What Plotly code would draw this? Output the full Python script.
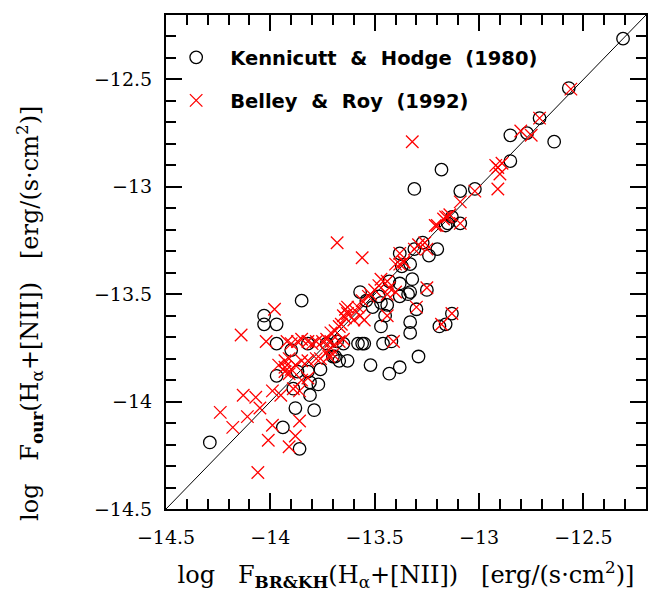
import plotly.graph_objects as go

# Kennicutt & Hodge (1980): x = log F_BR&KH, y = log F_our
kh_x = [-12.31, -12.57, -12.71, -12.77, -12.85, -12.64, -12.85, -13.18, -13.31, -13.09,
        -13.02, -13.13, -13.15, -13.16, -13.09, -13.27, -13.20, -13.24, -13.31, -13.38,
        -13.33, -13.37, -13.32, -13.38, -13.33, -13.34, -13.38, -13.43, -13.57, -13.54,
        -13.51, -13.47, -13.44, -13.48, -13.45, -13.47, -13.25, -13.30, -13.13, -13.16,
        -13.19, -13.33, -13.33, -13.29, -13.38, -13.43, -13.52, -13.42, -13.46, -13.58,
        -13.56, -13.55, -13.65, -13.68, -13.73, -13.69, -13.67, -13.63, -13.76, -13.85,
        -14.03, -14.03, -13.97, -13.97, -13.90, -13.82, -13.97, -13.87, -13.82, -13.81,
        -13.77, -13.89, -13.81, -13.88, -13.79, -13.94, -13.86, -14.29, -13.70]
kh_y = [-12.31, -12.54, -12.68, -12.75, -12.76, -12.79, -12.88, -12.92, -13.01, -13.02,
        -13.01, -13.14, -13.17, -13.18, -13.17, -13.26, -13.29, -13.32, -13.29, -13.31,
        -13.36, -13.37, -13.43, -13.45, -13.49, -13.50, -13.51, -13.44, -13.49, -13.53,
        -13.56, -13.54, -13.55, -13.51, -13.60, -13.65, -13.48, -13.57, -13.59, -13.64,
        -13.65, -13.63, -13.68, -13.79, -13.84, -13.87, -13.83, -13.72, -13.73, -13.73,
        -13.73, -13.73, -13.73, -13.72, -13.73, -13.79, -13.81, -13.81, -13.85, -13.53,
        -13.60, -13.64, -13.64, -13.73, -13.76, -13.73, -13.88, -13.86, -13.86, -13.91,
        -13.92, -13.94, -13.97, -14.03, -14.04, -14.12, -14.22, -14.19, -13.79]

# Belley & Roy (1992)
br_x = [-12.56, -12.71, -12.75, -12.80, -13.32, -12.92, -12.89, -12.91, -12.91, -13.02,
        -13.09, -13.16, -13.21, -13.09, -13.14, -13.68, -13.56, -13.26, -13.25, -13.31,
        -13.29, -13.38, -13.36, -13.40, -13.38, -13.36, -13.47, -13.44, -13.48, -13.50,
        -13.52, -13.43, -13.44, -13.40, -13.53, -13.56, -13.58, -13.59, -13.63, -13.64,
        -13.66, -13.67, -13.69, -13.71, -13.57, -13.55, -13.60, -13.63, -13.64, -13.25,
        -13.30, -13.13, -13.18, -13.41, -13.44, -13.72, -13.70, -13.98, -14.14, -14.02,
        -14.24, -14.18, -14.13, -14.07, -14.11, -14.05, -13.99, -13.95, -13.99, -14.01,
        -14.06, -13.91, -13.88, -13.86, -13.89, -13.92, -13.90, -13.87, -13.85, -13.82,
        -13.80, -13.78, -13.75, -13.73, -13.71, -13.67, -13.65, -13.93, -13.91, -13.93,
        -13.90, -13.93, -13.91, -13.88, -13.85, -13.82, -13.78, -13.76, -13.85, -13.82,
        -13.86, -13.96, -13.65, -13.73, -13.71, -12.90, -13.20, -13.17, -13.15]
br_y = [-12.545, -12.68, -12.76, -12.74, -12.79, -12.90, -12.89, -12.91, -13.01, -13.02,
        -13.07, -13.14, -13.18, -13.17, -13.13, -13.26, -13.33, -13.26, -13.29, -13.29,
        -13.27, -13.31, -13.35, -13.36, -13.36, -13.35, -13.43, -13.44, -13.46, -13.48,
        -13.50, -13.47, -13.50, -13.49, -13.51, -13.53, -13.56, -13.58, -13.59, -13.61,
        -13.64, -13.65, -13.67, -13.68, -13.60, -13.62, -13.62, -13.56, -13.57, -13.47,
        -13.56, -13.59, -13.64, -13.72, -13.60, -13.79, -13.78, -13.57, -13.69, -13.72,
        -14.05, -14.12, -13.97, -13.98, -14.07, -14.03, -13.95, -13.97, -14.11, -14.18,
        -14.33, -14.21, -14.16, -14.09, -13.94, -13.72, -13.73, -13.72, -13.71, -13.72,
        -13.73, -13.72, -13.72, -13.71, -13.72, -13.72, -13.71, -13.81, -13.80, -13.84,
        -13.85, -13.86, -13.87, -13.83, -13.81, -13.81, -13.80, -13.80, -13.90, -13.89,
        -13.95, -13.83, -13.60, -13.77, -13.75, -12.94, -13.18, -13.15, -13.14]

one_to_one = [-14.5, -12.2]
axis_range = [-14.5, -12.2]
tick_vals = [-14.5, -14.0, -13.5, -13.0, -12.5]
tick_text = ["\u221214.5", "\u221214", "\u221213.5", "\u221213", "\u221212.5"]

NB = "\u00a0"
GAP = NB * 3
serif = "DejaVu Serif"

fig = go.Figure()
fig.add_trace(go.Scatter(x=one_to_one, y=one_to_one, mode="lines",
                         line=dict(color="black", width=1), showlegend=False,
                         hoverinfo="skip"))
fig.add_trace(go.Scatter(x=kh_x, y=kh_y, mode="markers",
                         name=f"Kennicutt{NB}{NB}&{NB}{NB}Hodge{NB}{NB}(1980)",
                         marker=dict(symbol="circle-open", size=12.5, color="black",
                                     line=dict(width=1.3, color="black")),
                         legend="legend"))
fig.add_trace(go.Scatter(x=br_x, y=br_y, mode="markers",
                         name=f"Belley{NB}{NB}&{NB}{NB}Roy{NB}{NB}(1992)",
                         marker=dict(symbol="x-thin-open", size=12.5, color="red",
                                     line=dict(width=1.3, color="red")),
                         legend="legend2"))

axis_common = dict(
    range=axis_range, tickmode="array", tickvals=tick_vals, ticktext=tick_text,
    ticks="inside", ticklen=16, tickwidth=2, tickcolor="black",
    showline=True, linecolor="black", linewidth=2, mirror="allticks",
    showgrid=False, zeroline=False,
    tickfont=dict(family=serif, size=19, color="black"),
    minor=dict(tickmode="linear", tick0=-14.5, dtick=0.1, ticks="inside",
               ticklen=10, tickwidth=1.5, tickcolor="black", showgrid=False),
)

title_font = dict(family=serif, size=24, color="black")
legend_font = dict(family="DejaVu Sans", size=19.5, color="black", weight="bold")

x_title = f"log{GAP}F<sub><b>BR&KH</b></sub>(H<sub>\u03b1</sub>+[NII]){GAP}[erg/(s\u00b7cm<sup>2</sup>)]"
y_title = f"log{GAP}F<sub><b>our</b></sub>(H<sub>\u03b1</sub>+[NII]){GAP}[erg/(s\u00b7cm<sup>2</sup>)]"

fig.update_layout(
    width=654, height=594,
    margin=dict(l=166, r=6, t=15, b=85),
    plot_bgcolor="white", paper_bgcolor="white",
    xaxis=dict(**axis_common, ticklabelstandoff=10,
               title=dict(text=x_title, font=title_font, standoff=19)),
    yaxis=dict(**axis_common, ticklabelstandoff=8),
    legend=dict(x=-0.008, y=0.9136, xanchor="left", yanchor="middle",
                bgcolor="rgba(0,0,0,0)", borderwidth=0, itemwidth=58,
                font=legend_font),
    legend2=dict(x=-0.008, y=0.8265, xanchor="left", yanchor="middle",
                 bgcolor="rgba(0,0,0,0)", borderwidth=0, itemwidth=58,
                 font=legend_font),
    annotations=[dict(text=y_title, textangle=-90, showarrow=False,
                      xref="paper", yref="paper", x=-0.283, y=0.395,
                      xanchor="center", yanchor="middle", font=title_font)],
)

fig.write_html("out.html")
